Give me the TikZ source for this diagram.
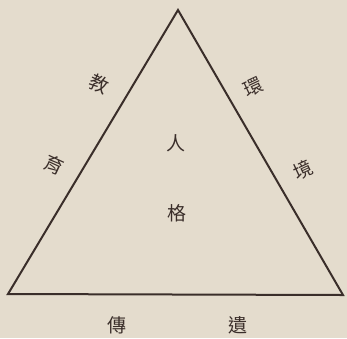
\documentclass[tikz,border=0pt]{standalone}
\usepackage{fontspec}
\newfontfamily\cjk{Noto Sans CJK TC}
\definecolor{paper}{RGB}{228,220,205}
\definecolor{ink}{RGB}{58,46,42}
\begin{document}
\begin{tikzpicture}[x=1pt,y=-1pt,
  lab/.style={text=ink,font=\cjk\fontsize{19}{19}\selectfont,inner sep=0pt}]
\fill[paper] (0,0) rectangle (347,338);
\useasboundingbox (0,0) rectangle (347,338);
\coordinate (A) at (178,10);
\coordinate (B) at (8,294);
\coordinate (C) at (343,295);
\draw[ink,line width=2pt,line join=miter] (A) -- (B) -- (C) -- cycle;
\node[lab,rotate=-25] (jiao) at (99,84) {教};
\node[lab,rotate=-25] (yu) at (54,165) {育};
\node[lab,rotate=25] (huan) at (253,87) {環};
\node[lab,rotate=25] (jing) at (303,170) {境};
\node[lab] (ren) at (176,143) {人};
\node[lab] (ge) at (177,213) {格};
\node[lab] (chuan) at (117,325) {傳};
\node[lab] (yi) at (238,325) {遺};
\end{tikzpicture}
\end{document}
